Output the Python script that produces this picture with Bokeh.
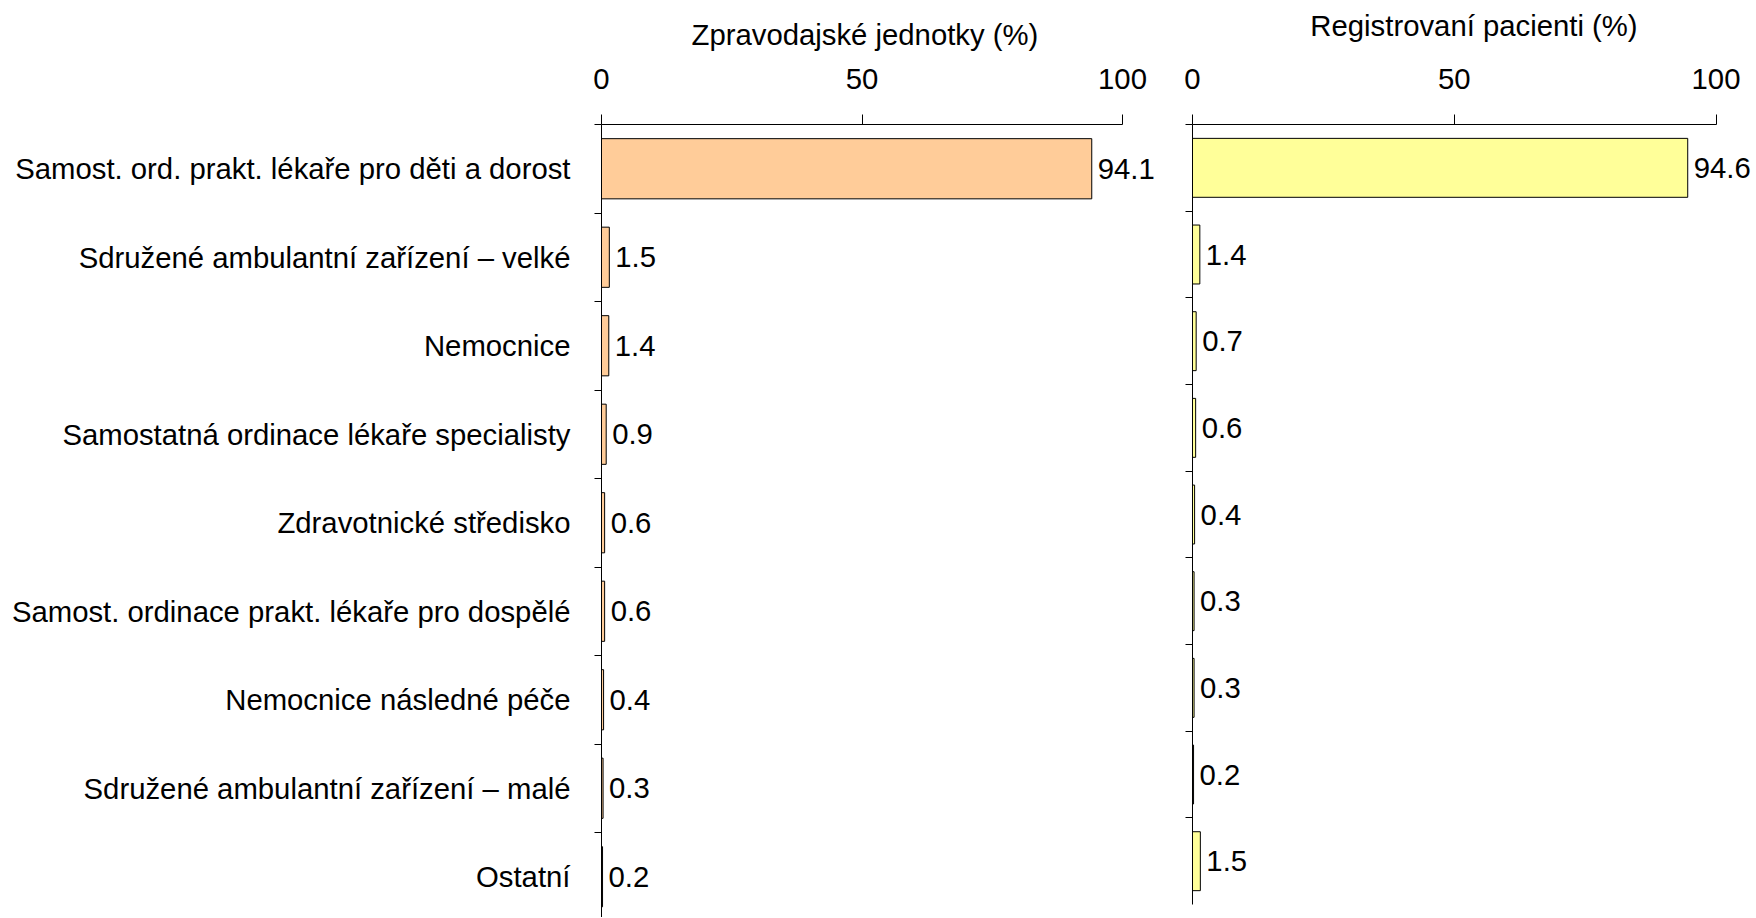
from bokeh.plotting import figure
from bokeh.models import (ColumnDataSource, Range1d, FixedTicker, CustomJSTickFormatter,
                          LabelSet, Title)
from bokeh.core.properties import value
from bokeh.layouts import row
from bokeh.embed import file_html
from bokeh.resources import INLINE

categories = [
    "Samost. ord. prakt. lékaře pro děti a dorost",
    "Sdružené ambulantní zařízení – velké",
    "Nemocnice",
    "Samostatná ordinace lékaře specialisty",
    "Zdravotnické středisko",
    "Samost. ordinace prakt. lékaře pro dospělé",
    "Nemocnice následné péče",
    "Sdružené ambulantní zařízení – malé",
    "Ostatní",
]
units_pct = [94.1, 1.5, 1.4, 0.9, 0.6, 0.6, 0.4, 0.3, 0.2]
patients_pct = [94.6, 1.4, 0.7, 0.6, 0.4, 0.3, 0.3, 0.2, 1.5]
x_ticks = [0, 50, 100]
title_units = "Zpravodajské jednotky (%)"
title_patients = "Registrovaní pacienti (%)"

FONT = "Liberation Sans"
FS = "29.3px"


def panel(values, fill, title, px_per_unit, frame_w, frame_h, band_px,
          b_left, b_right, b_top, b_bottom, show_cats, tick_standoff,
          title_offset=None, title_standoff=10):
    n = len(categories)
    ys = list(range(n))
    src = ColumnDataSource(dict(y=ys, v=values, txt=[f"{v:.1f}" for v in values]))
    y_start = -0.5 + frame_h / band_px
    x_end = frame_w / px_per_unit
    p = figure(frame_width=frame_w, frame_height=frame_h,
               x_range=Range1d(0, x_end), y_range=Range1d(y_start, -0.5),
               x_axis_location="above", output_backend="svg", toolbar_location=None,
               min_border_left=b_left, min_border_right=b_right, min_border_top=b_top,
               min_border_bottom=b_bottom)
    p.outline_line_color = None
    p.grid.visible = False
    p.background_fill_color = "white"
    p.border_fill_color = "white"

    p.hbar(y="y", left=0, right="v", height=0.68, source=src,
           fill_color=fill, line_color="black", line_width=1)

    p.add_layout(LabelSet(x="v", y="y", text="txt", source=src, x_offset=6,
                          text_baseline="middle", text_align="left",
                          text_font=value(FONT), text_font_size=value(FS),
                          text_color="black"))

    xa = p.xaxis[0]
    xa.bounds = (0, 100)
    xa.ticker = FixedTicker(ticks=x_ticks)
    xa.major_tick_out = 10
    xa.major_tick_in = 0
    xa.minor_tick_out = 0
    xa.minor_tick_in = 0
    xa.axis_line_color = "black"
    xa.major_tick_line_color = "black"
    xa.major_label_text_font = FONT
    xa.major_label_text_font_size = FS
    xa.major_label_text_color = "black"
    xa.major_label_standoff = tick_standoff
    if title_offset is None:
        xa.axis_label = title
        xa.axis_label_text_font = FONT
        xa.axis_label_text_font_size = FS
        xa.axis_label_text_font_style = "normal"
        xa.axis_label_text_color = "black"
        xa.axis_label_standoff = title_standoff
    else:
        p.add_layout(Title(text=title, align="left", offset=title_offset,
                           vertical_align="bottom", standoff=title_standoff,
                           text_font=FONT, text_font_size=FS,
                           text_font_style="normal", text_color="black"), "above")

    ya = p.yaxis[0]
    ya.ticker = FixedTicker(ticks=ys, minor_ticks=[i - 0.5 for i in range(n + 1)])
    ya.major_tick_out = 0
    ya.major_tick_in = 0
    ya.minor_tick_out = 7
    ya.minor_tick_in = 0
    ya.minor_tick_line_color = "black"
    ya.axis_line_color = "black"
    if show_cats:
        ya.formatter = CustomJSTickFormatter(
            args=dict(names=categories),
            code="const i = Math.round(tick); return (i >= 0 && i < names.length) ? names[i] : '';")
        ya.major_label_text_font = FONT
        ya.major_label_text_font_size = FS
        ya.major_label_text_color = "black"
        ya.major_label_standoff = 24
    else:
        ya.formatter = CustomJSTickFormatter(code="return '';")
        ya.major_label_text_font_size = "0px"
        ya.major_label_standoff = 0
    return p


left = panel(units_pct, "#FFCC99", title_units, 5.21, 559, 793, 88.5,
             601, 0, 124, 0, True, 26, title_offset=90, title_standoff=29)
right = panel(patients_pct, "#FFFF99", title_patients, 5.235, 563, 780, 86.67,
              32, 0, 124, 13, False, 26, title_standoff=24)

layout = row(left, right)
open("out.html", "w").write(file_html(layout, INLINE))
